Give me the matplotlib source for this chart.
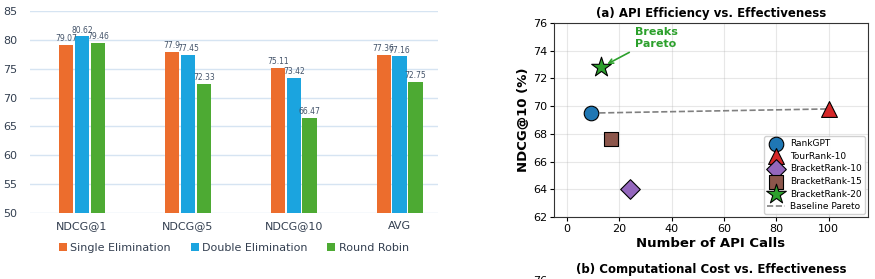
import numpy as np
import matplotlib.pyplot as plt

# left: bracket format comparison
metrics = ['NDCG@1', 'NDCG@5', 'NDCG@10', 'AVG']
single_elim = [79.07, 77.9, 75.11, 77.36]
double_elim = [80.62, 77.45, 73.42, 77.16]
round_robin = [79.46, 72.33, 66.47, 72.75]
series_names = ['Single Elimination', 'Double Elimination', 'Round Robin']

# right: API efficiency
methods = ['RankGPT', 'TourRank-10', 'BracketRank-10', 'BracketRank-15', 'BracketRank-20']
api_calls = [9, 100, 24, 17, 13]
ndcg10 = [69.5, 69.8, 64.05, 67.6, 72.8]

fig = plt.figure(figsize=(8.75, 2.79), dpi=100)

# ---- bar chart ----
ax = fig.add_axes([0.0343, 0.2366, 0.466, 0.724])
colors = ['#EC6D2D', '#1BA4DF', '#4DAA33']
x = np.arange(len(metrics))
w = 0.135
step = 0.15
for i, (vals, c, name) in enumerate(zip([single_elim, double_elim, round_robin], colors, series_names)):
    pos = x + (i - 1) * step
    ax.bar(pos, np.array(vals) - 50, bottom=50, width=w, color=c, label=name, zorder=3)
    for p, v in zip(pos, vals):
        ax.text(p, v + 0.3, f'{v:g}', ha='center', va='bottom', fontsize=5.5, color='#44546A', zorder=4)
ax.set_ylim(50, 85)
ax.set_xlim(-0.49, 3.36)
ax.set_yticks(range(50, 86, 5))
ax.set_xticks(x)
ax.set_xticklabels(metrics)
ax.grid(axis='y', color='#D6E4F2', linewidth=1, zorder=0)
for s in ax.spines.values():
    s.set_visible(False)
ax.tick_params(length=0, labelsize=8, colors='#333F50', pad=6)
ax.tick_params(axis='y', pad=9)
ax.legend(loc='upper center', bbox_to_anchor=(0.5, -0.1), ncol=3, frameon=False, fontsize=8,
          handlelength=0.7, handleheight=0.7, handletextpad=0.3, columnspacing=1.8, labelcolor='#333F50')

# ---- scatter (a) ----
ax2 = fig.add_axes([0.633, 0.2222, 0.359, 0.6953])
markers = ['o', '^', 'D', 's', '*']
mcolors = ['#1F77B4', '#D62728', '#9467BD', '#8C564B', '#2CA02C']
sizes = [110, 130, 100, 100, 220]
ax2.plot([api_calls[0], api_calls[1]], [ndcg10[0], ndcg10[1]], '--', color='gray', lw=1.2,
         label='Baseline Pareto', zorder=2)
for m, xv, yv, mk, c, s in zip(methods, api_calls, ndcg10, markers, mcolors, sizes):
    ax2.scatter(xv, yv, marker=mk, s=s, color=c, edgecolor='black', linewidth=0.8, label=m, zorder=3)
ax2.annotate('Breaks\nPareto', xy=(api_calls[4], ndcg10[4]), xytext=(34, 74.9),
             ha='center', va='center', fontsize=8, fontweight='bold', color='#2CA02C',
             arrowprops=dict(arrowstyle='->', color='#2CA02C', lw=1.2, shrinkB=5))
ax2.set_xlim(-5, 115)
ax2.set_ylim(62, 76)
ax2.set_yticks(range(62, 77, 2))
ax2.set_xticks(range(0, 101, 20))
ax2.grid(alpha=0.3)
ax2.tick_params(labelsize=8, length=3, pad=2)
for s in ax2.spines.values():
    s.set_color('#333333')
ax2.set_title('(a) API Efficiency vs. Effectiveness', fontsize=8.5, fontweight='bold', pad=4)
ax2.set_xlabel('Number of API Calls', fontsize=9.5, fontweight='bold', labelpad=2)
ax2.set_ylabel('NDCG@10 (%)', fontsize=9.5, fontweight='bold', labelpad=2)
h, l = ax2.get_legend_handles_labels()
h = h[1:] + h[:1]
l = l[1:] + l[:1]
ax2.legend(h, l, loc='lower right', fontsize=6.5, borderaxespad=0.3, handletextpad=0.6,
           labelspacing=0.4, borderpad=0.35, framealpha=0.9)

# ---- scatter (b), mostly off the bottom ----
ax3 = fig.add_axes([0.633, -0.502, 0.359, 0.5])
ax3.set_ylim(62, 76)
ax3.set_yticks([76])
ax3.set_xticks([])
ax3.tick_params(labelsize=8, length=3, pad=2)
ax3.set_title('(b) Computational Cost vs. Effectiveness', fontsize=8.5, fontweight='bold', pad=5)

fig.savefig('out.png', dpi=100)
